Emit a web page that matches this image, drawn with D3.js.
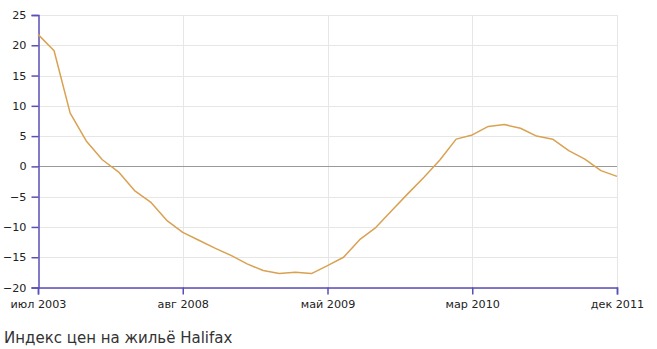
<!DOCTYPE html>
<html>
<head>
<meta charset="utf-8">
<script src="https://cdn.jsdelivr.net/npm/d3@7"></script>
<style>
  body { margin: 0; background: #fff; }
  svg text { font-family: Verdana, "DejaVu Sans", sans-serif; }
</style>
</head>
<body>
<svg id="chart-svg"></svg>
<script>
// Halifax house price index, % change, evenly spaced samples
const values = [
  21.8, 19.1, 8.8, 4.2, 1.1, -0.9, -4.0, -5.9, -8.9, -10.9,
  -12.2, -13.5, -14.7, -16.1, -17.2, -17.7, -17.5, -17.7, -16.4, -15.0,
  -12.1, -10.1, -7.3, -4.5, -1.8, 1.1, 4.5, 5.2, 6.6, 6.9,
  6.3, 5.0, 4.5, 2.6, 1.2, -0.7, -1.65
];
const tickIndex = [0, 9, 18, 27, 36];
const tickLabels = ["июл 2003", "авг 2008", "май 2009", "мар 2010", "дек 2011"];
const yTicks = [-20, -15, -10, -5, 0, 5, 10, 15, 20, 25];
const title = "Индекс цен на жильё Halifax";

const svgWidth = 657;
const svgHeight = 349;
const m_left = 38;
const m_top = 15;
const m_right = 40;
const m_bottom = 61.5;
const width = svgWidth - m_left - m_right;
const height = svgHeight - m_top - m_bottom;

const axisColor = "#5a4fb6";

const svg = d3.select("#chart-svg")
  .attr("width", svgWidth)
  .attr("height", svgHeight);

const chart = svg.append("g")
  .attr("transform", `translate(${m_left}, ${m_top})`);

const xScale = d3.scaleLinear()
  .domain([0, values.length - 1])
  .range([0, width]);

const yScale = d3.scaleLinear()
  .domain([-20, 25])
  .range([height, 0]);

// grid lines
chart.append("g")
  .selectAll("line")
  .data(yTicks)
  .join("line")
  .attr("x1", 0)
  .attr("x2", width)
  .attr("y1", (d) => Math.round(yScale(d)) + 0.5)
  .attr("y2", (d) => Math.round(yScale(d)) + 0.5)
  .attr("stroke", "#e6e6e6");

chart.append("g")
  .selectAll("line")
  .data(tickIndex.slice(1))
  .join("line")
  .attr("x1", (d) => Math.round(xScale(d)) + 0.5)
  .attr("x2", (d) => Math.round(xScale(d)) + 0.5)
  .attr("y1", 0)
  .attr("y2", height)
  .attr("stroke", "#e6e6e6");

// zero line
chart.append("line")
  .attr("x1", 0)
  .attr("x2", width)
  .attr("y1", Math.round(yScale(0)) + 0.5)
  .attr("y2", Math.round(yScale(0)) + 0.5)
  .attr("stroke", "#999")
  .attr("stroke-width", 1.2);

// axes
const yAxis = chart.append("g")
  .attr("transform", "translate(0.5,0)")
  .call(d3.axisLeft(yScale).tickValues(yTicks).tickSize(7).tickPadding(5));

const xAxis = chart.append("g")
  .attr("transform", `translate(0, ${height})`)
  .call(
    d3.axisBottom(xScale)
      .tickValues(tickIndex)
      .tickFormat((d, i) => tickLabels[i])
      .tickSize(7)
      .tickPadding(6)
  );

[xAxis, yAxis].forEach((ax) => {
  ax.select(".domain").attr("stroke", axisColor).attr("stroke-width", 1.5);
  ax.selectAll(".tick line").attr("stroke", axisColor).attr("stroke-width", 1.5);
  ax.selectAll("text")
    .attr("fill", "#222")
    .style("font-size", "11.2px");
});

// data line
const line = d3.line()
  .x((d, i) => xScale(i))
  .y((d) => yScale(d));

chart.append("path")
  .datum(values)
  .attr("fill", "none")
  .attr("stroke", "#d9a152")
  .attr("stroke-width", 1.5)
  .attr("stroke-linejoin", "round")
  .attr("d", line);

// title
svg.append("text")
  .attr("x", 4)
  .attr("y", 343)
  .attr("fill", "#333")
  .style("font-size", "15px")
  .style("font-family", "Tahoma, 'DejaVu Sans', sans-serif")
  .text(title);
</script>
</body>
</html>
